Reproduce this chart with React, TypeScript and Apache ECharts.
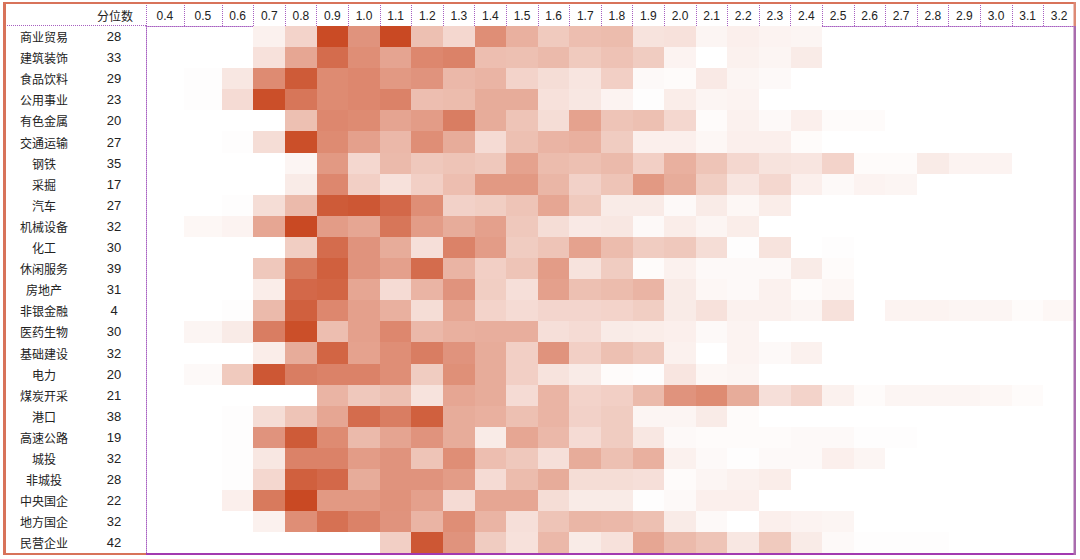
import React, { useEffect, useRef } from "react";
import * as echarts from "echarts";

const quantiles = ["0.4","0.5","0.6","0.7","0.8","0.9","1.0","1.1","1.2","1.3","1.4","1.5","1.6","1.7","1.8","1.9","2.0","2.1","2.2","2.3","2.4","2.5","2.6","2.7","2.8","2.9","3.0","3.1","3.2"];
const sectors = ["商业贸易","建筑装饰","食品饮料","公用事业","有色金属","交通运输","钢铁","采掘","汽车","机械设备","化工","休闲服务","房地产","非银金融","医药生物","基础建设","电力","煤炭开采","港口","高速公路","城投","非城投","中央国企","地方国企","民营企业"];
const counts = [28,33,29,23,20,27,35,17,27,32,30,39,31,4,30,32,20,21,38,19,32,28,22,32,42];

const heat: number[][] = [
  [0,0,0,7,22,97,55,98,32,20,58,40,27,33,34,14,15,5,8,6,5],
  [0,0,0,15,45,78,58,46,62,65,33,32,35,27,31,26,6,0,7,5,10],
  [0,1,12,60,88,60,62,52,55,36,38,22,17,13,24,3,2,11,5,3],
  [0,1,18,95,72,60,62,65,33,34,42,42,15,12,6,1,9,5,6],
  [0,0,0,0,32,62,60,46,50,68,42,30,17,47,30,32,20,2,7,3,8,2,2],
  [0,0,1,17,95,60,48,36,58,42,18,32,38,40,26,8,8,4,8,8,2],
  [0,0,0,0,5,52,20,35,28,30,28,47,34,32,35,24,40,30,20,14,13,22,2,2,10,6,6],
  [0,0,0,0,10,62,24,15,24,33,52,52,37,23,30,52,42,25,13,20,8,3,6,5],
  [0,0,1,17,35,88,90,80,58,23,25,30,45,27,10,10,3,10,4,9],
  [0,4,6,45,98,50,45,72,50,42,48,28,17,11,12,3,9,5,9],
  [0,0,0,0,25,78,55,42,16,65,50,26,30,47,34,26,28,17,1,14,0,1],
  [0,0,0,28,70,85,55,48,78,38,24,30,50,14,26,2,7,3,3,3,10,2],
  [0,0,0,9,80,82,45,18,38,55,25,16,48,32,34,38,10,4,3,7,2,4],
  [0,0,1,35,85,62,48,40,17,45,22,18,21,21,22,25,10,15,7,7,5,15,0,6,6,5,5,2,4],
  [0,5,10,68,95,33,48,62,36,40,41,41,16,18,10,9,8,3,6],
  [0,0,0,9,42,82,47,58,68,55,42,24,55,24,32,28,7,0,6,3,7],
  [0,3,27,90,68,65,65,58,26,57,42,24,14,10,2,1,13,4,5],
  [0,0,0,0,0,38,28,32,14,45,42,18,38,22,24,35,55,60,42,16,22,7,2,5,5,5,4,2],
  [0,0,1,17,30,45,78,68,85,42,40,32,38,23,26,5,5,10,2],
  [0,0,1,55,88,60,35,46,55,42,10,45,36,18,26,12,3,2,2,2,3,3,1,1],
  [0,0,1,12,65,65,50,55,30,58,33,28,16,42,32,40,7,3,1,3,3,8,5],
  [0,0,1,20,85,80,42,55,55,50,18,34,42,17,17,16,2,5,7,9],
  [0,0,8,70,98,52,52,56,48,18,45,45,17,10,10,1,3,8,8],
  [0,0,0,7,58,75,65,55,38,58,38,16,30,37,36,32,10,3,0,8,6,5],
  [0,0,0,0,0,0,0,24,90,55,26,15,36,10,15,45,35,30,12,27,10,3,1,1,1],
];

// Layout: the first two quantile columns are wider than the others.
const wideColumns = 2;
const wideRatio = 1.2;
const edges: number[] = [0];
quantiles.forEach((_, i) => edges.push(edges[i] + (i < wideColumns ? wideRatio : 1)));
const centres = quantiles.map((_, i) => (edges[i] + edges[i + 1]) / 2);

const latin = "'Liberation Sans', 'Noto Sans CJK SC', sans-serif";
const cjk = "'Noto Sans CJK SC', 'Liberation Sans', sans-serif";
const textColor = "#222222";
const dotted = { color: "#a75fc0", width: 1, type: [1, 1] as number[] };
const dottedStroke = { stroke: "#a75fc0", lineWidth: 1, lineDash: [1, 1] };
const orange = "#d8735a";
const orangeLight = "#dd8a75";
const purple = "#a23ab0";
const purpleLight = "#a96cad";

export default function App() {
  const ref = useRef<HTMLDivElement>(null);
  useEffect(() => {
    const chart = echarts.init(ref.current!, undefined, { renderer: "svg" });
    const cells: number[][] = [];
    heat.forEach((row, r) =>
      row.forEach((v, c) => {
        if (v > 0) cells.push([edges[c], edges[c + 1], r, v]);
      })
    );
    chart.setOption({
      animation: false,
      backgroundColor: "#ffffff",
      grid: { left: 146, top: 26, width: 929, height: 527.5, containLabel: false },
      visualMap: {
        show: false,
        type: "continuous",
        min: 0,
        max: 100,
        dimension: 3,
        seriesIndex: 0,
        inRange: { color: ["#ffffff", "#e39c87", "#c8461f"] },
      },
      xAxis: {
        type: "value",
        position: "top",
        min: 0,
        max: edges[edges.length - 1],
        splitLine: { show: false },
        axisLine: { show: true, lineStyle: dotted },
        axisTick: { show: true, length: 21, lineStyle: dotted, customValues: edges },
        axisLabel: {
          show: true,
          margin: 4,
          fontSize: 12,
          fontFamily: latin,
          color: textColor,
          customValues: centres,
          formatter: (v: number) => quantiles[centres.findIndex((c) => Math.abs(c - v) < 1e-6)] ?? "",
        },
      },
      yAxis: [
        {
          type: "category",
          inverse: true,
          data: sectors,
          position: "left",
          axisLine: { show: true, lineStyle: dotted },
          axisTick: { show: false },
          splitLine: { show: false },
          axisLabel: { margin: 102, align: "center", fontSize: 12, fontFamily: cjk, color: textColor },
        },
        {
          type: "category",
          inverse: true,
          data: counts.map(String),
          position: "left",
          axisLine: { show: false },
          axisTick: { show: false },
          splitLine: { show: false },
          axisLabel: { margin: 32, align: "center", fontSize: 13, fontFamily: latin, color: textColor },
        },
      ],
      series: [
        {
          type: "custom",
          silent: true,
          xAxisIndex: 0,
          yAxisIndex: 0,
          encode: { x: [0, 1], y: 2 },
          data: cells,
          renderItem: (_: any, api: any) => {
            const a = api.coord([api.value(0), api.value(2)]);
            const b = api.coord([api.value(1), api.value(2)]);
            const band = api.size([0, 1])[1];
            const x0 = Math.round(a[0]);
            const x1 = Math.round(b[0]);
            const y0 = Math.round(a[1] - band / 2);
            const y1 = Math.round(a[1] + band / 2);
            return {
              type: "rect",
              shape: { x: x0, y: y0, width: x1 - x0, height: y1 - y0 },
              style: { fill: api.visual("color") },
            };
          },
        },
      ],
      graphic: [
        { type: "text", z: 10, x: 115, y: 15, style: { text: "分位数", fill: textColor, font: `12px ${cjk}`, align: "center", verticalAlign: "middle" } },
        { type: "line", z: 10, shape: { x1: 5, y1: 25.5, x2: 146, y2: 25.5 }, style: dottedStroke },
        { type: "rect", z: 10, shape: { x: 3, y: 2, width: 1073, height: 2 }, style: { fill: orange } },
        { type: "rect", z: 10, shape: { x: 3, y: 2, width: 3, height: 553 }, style: { fill: orange } },
        { type: "rect", z: 10, shape: { x: 3, y: 553, width: 143, height: 2 }, style: { fill: orange } },
        { type: "rect", z: 10, shape: { x: 146, y: 553, width: 930, height: 2 }, style: { fill: purple } },
        { type: "rect", z: 10, shape: { x: 1073.5, y: 2, width: 2.5, height: 24 }, style: { fill: orangeLight } },
        { type: "rect", z: 10, shape: { x: 1073.5, y: 26, width: 2.5, height: 529 }, style: { fill: purpleLight } },
      ],
    });
    return () => chart.dispose();
  }, []);

  return <div ref={ref} style={{ position: "fixed", left: 0, top: 0, width: 1080, height: 559 }} />;
}
